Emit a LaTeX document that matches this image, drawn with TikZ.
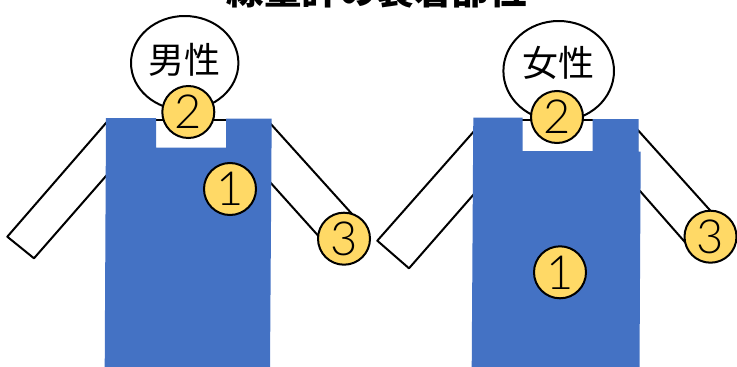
\documentclass[tikz,border=0pt]{standalone}
\usepackage{fontspec}
\newfontfamily\cjk{Noto Sans CJK JP}
\newfontfamily\numfont{Lato Light}
\definecolor{vest}{HTML}{4472C4}
\definecolor{badgefill}{HTML}{FFD966}
\begin{document}
\begin{tikzpicture}[x=1pt,y=-1pt,
  outline/.style={draw=black, line width=2pt, line join=round},
  limb/.style={outline, fill=white},
  badge/.style={circle, draw=black, line width=2pt, fill=badgefill,
    minimum size=52pt, inner sep=0pt,
    font=\numfont\fontsize{47}{47}\selectfont},
  headlabel/.style={font=\cjk\fontsize{36}{36}\selectfont, inner sep=0pt}]
\useasboundingbox (0,0) rectangle (737,367);

% title (runs off the top edge)
\node[font=\cjk\bfseries\fontsize{37.5}{37.5}\selectfont, anchor=base, inner sep=0pt]
  (title) at (376.5,4.5) {線量計の装着部位};

% ---------- male figure ----------
\draw[limb] (108,120.7) -- (7.3,236.7) -- (34,258.3) -- (108,173.7) -- cycle;
\draw[limb] (269,122) -- (362.5,225.6) -- (333.1,252.3) -- (269,181) -- cycle;
\draw[outline, fill=white] (108,119.5) rectangle (269,380);
\draw[outline, fill=white] (184.7,63) ellipse [x radius=53.7pt, y radius=47pt];
\fill[vest] (106,118) -- (156,118) -- (156,147.7) -- (226,147.7) -- (226,118.5)
  -- (271.7,118.5) -- (270,368) -- (104.7,368) -- cycle;
\node[headlabel] (mlabel) at (184.3,60) {男性};
\node[badge] (m2) at (188.3,112) {2};
\node[badge] (m1) at (230,189) {1};
\node[badge] (m3) at (344,238.7) {3};

% ---------- female figure ----------
\draw[limb] (475,130.1) -- (377.3,240.7) -- (409,268.3) -- (475,192.9) -- cycle;
\draw[limb] (637,129.1) -- (722.3,223.9) -- (692.5,250.7) -- (637,187.6) -- cycle;
\draw[outline, fill=white] (475,119.5) rectangle (637,380);
\draw[outline, fill=white] (558.7,71) ellipse [x radius=55.3pt, y radius=50pt];
\fill[vest] (473.3,117.7) -- (522.7,117.7) -- (522.7,151) -- (592.7,151) -- (592.7,119)
  -- (638.7,119) -- (638.7,151.5) -- (640.7,151.5) -- (639.5,368) -- (471.7,368) -- cycle;
\node[headlabel] (flabel) at (558.5,62.5) {女性};
\node[badge] (f2) at (557,117) {2};
\node[badge] (f1) at (560,272.3) {1};
\node[badge] (f3) at (710.5,236.7) {3};
\end{tikzpicture}
\end{document}
